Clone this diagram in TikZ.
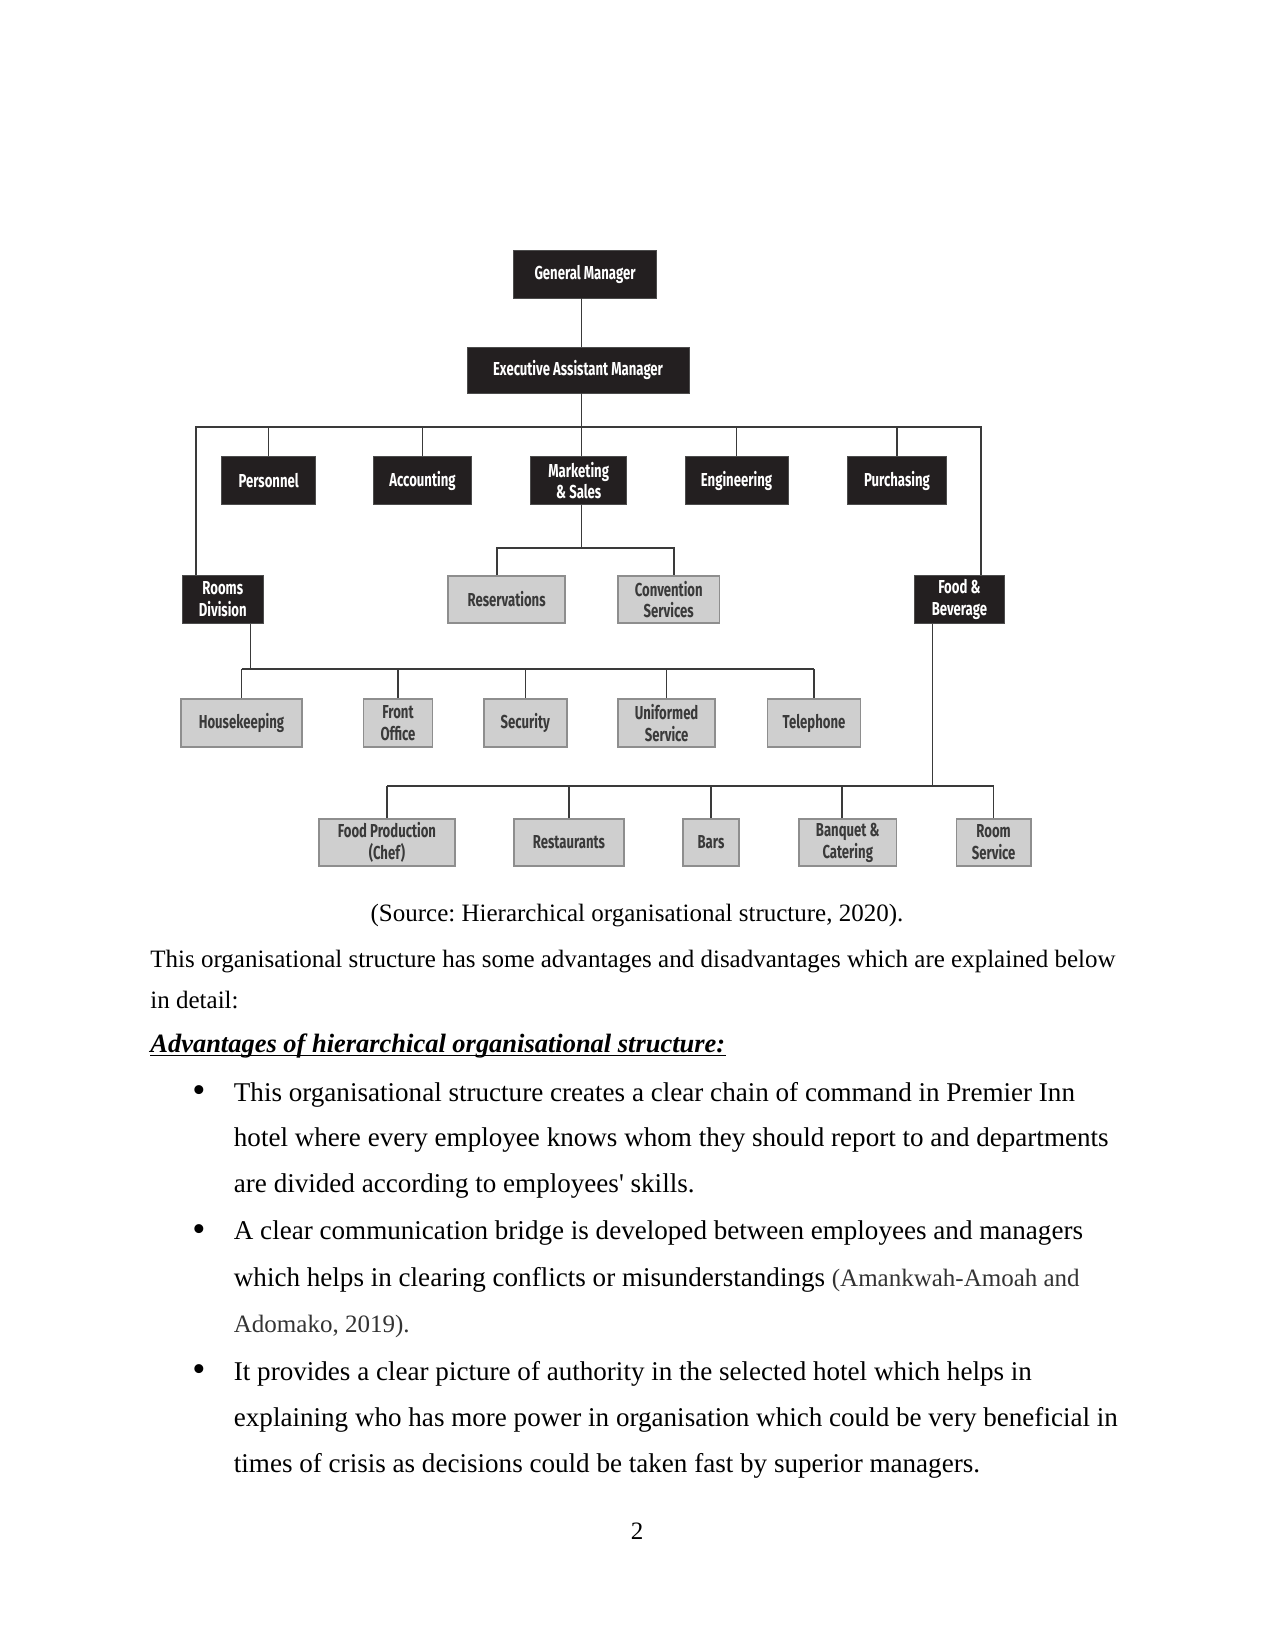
\documentclass[tikz,border=0pt]{standalone}
\usepackage{fontspec}
\setmainfont[Ligatures=TeXOff]{Liberation Serif}
\newfontfamily\orgfont[FakeStretch=0.70]{Fira Sans}
\frenchspacing
\newcommand\pxu{0.48pt}
\definecolor{blk}{HTML}{231F20}
\definecolor{gfill}{HTML}{CFCFCF}
\definecolor{gedge}{HTML}{8E8E8E}
\definecolor{gtext}{HTML}{3A3A3A}
\definecolor{lnc}{HTML}{3A3A3A}
\definecolor{cite}{HTML}{333333}
\tikzset{
  blkbox/.style={fill=blk, draw=gray!60!black, line width=0.4pt, text=white,
    font=\orgfont\bfseries\fontsize{9}{10.5}\selectfont, align=center, inner sep=0pt},
  grybox/.style={fill=gfill, draw=gedge, line width=0.9pt, text=gtext,
    font=\orgfont\bfseries\fontsize{9}{10.5}\selectfont, align=center, inner sep=0pt},
  conn/.style={draw=lnc, line width=0.7pt},
  tx/.style={anchor=base west, inner sep=0pt, font=\fontsize{13}{15}\selectfont},
  bul/.style={anchor=base, inner sep=0pt, font=\fontsize{18}{20}\selectfont},
}
\begin{document}
\begin{tikzpicture}[x=0.48pt,y=-0.48pt]
\useasboundingbox[fill=white] (0,0) rectangle (1275,1650);
% ---- top level
\node[blkbox, minimum width=143*\pxu, minimum height=48*\pxu] (gm) at (585,274) {General Manager};
\node[blkbox, minimum width=222*\pxu, minimum height=46*\pxu] (eam) at (578,370) {Executive Assistant Manager};
% ---- departments
\node[blkbox, minimum width=94*\pxu, minimum height=48*\pxu] (pers) at (268.7,480.5) {Personnel};
\node[blkbox, minimum width=98*\pxu, minimum height=48*\pxu] (acct) at (422.5,480.5) {Accounting};
\node[blkbox, minimum width=96*\pxu, minimum height=48*\pxu] (mkt) at (578.7,480.5) {Marketing\\\& Sales};
\node[blkbox, minimum width=103*\pxu, minimum height=48*\pxu] (eng) at (736.5,480.5) {Engineering};
\node[blkbox, minimum width=99*\pxu, minimum height=48*\pxu] (pur) at (897,480.5) {Purchasing};
\node[blkbox, minimum width=81.5*\pxu, minimum height=48*\pxu] (rooms) at (222.75,599.5) {Rooms\\Division};
\node[blkbox, minimum width=89*\pxu, minimum height=48*\pxu] (fb) at (959.4,599.5) {Food \&\\Beverage};
% ---- marketing children
\node[grybox, minimum width=116.6*\pxu, minimum height=47*\pxu] (res) at (506.6,599.5) {Reservations};
\node[grybox, minimum width=101.5*\pxu, minimum height=47*\pxu] (conv) at (668.75,599.5) {Convention\\Services};
% ---- rooms children
\node[grybox, minimum width=121*\pxu, minimum height=48*\pxu] (hk) at (241.5,723) {Housekeeping};
\node[grybox, minimum width=69*\pxu, minimum height=48*\pxu] (fo) at (398,723) {Front\\Office};
\node[grybox, minimum width=82.6*\pxu, minimum height=48*\pxu] (sec) at (525.3,723) {Security};
\node[grybox, minimum width=97*\pxu, minimum height=48*\pxu] (uni) at (666.6,723) {Uniformed\\Service};
\node[grybox, minimum width=93*\pxu, minimum height=48*\pxu] (tel) at (814,723) {Telephone};
% ---- F&B children
\node[grybox, minimum width=136*\pxu, minimum height=47*\pxu] (fp) at (387,842.5) {Food Production\\(Chef)};
\node[grybox, minimum width=109.5*\pxu, minimum height=47*\pxu] (rest) at (569,842.5) {Restaurants};
\node[grybox, minimum width=56.6*\pxu, minimum height=47*\pxu] (bars) at (711,842.5) {Bars};
\node[grybox, minimum width=97.5*\pxu, minimum height=47*\pxu] (banq) at (847.75,842.5) {Banquet \&\\Catering};
\node[grybox, minimum width=74.3*\pxu, minimum height=47*\pxu] (rs) at (993.6,842.5) {Room\\Service};
% ---- connector coordinates
\coordinate (trunk) at (581.4,427);
\coordinate (busL) at (196,427);
\coordinate (busR) at (981,427);
\coordinate (mbus) at (581.4,548);
\coordinate (resX) at (497,548);
\coordinate (convX) at (674,548);
\coordinate (rdrop) at (250.3,669);
\coordinate (rbL) at (241.5,669);
\coordinate (rbR) at (814,669);
\coordinate (fdrop) at (932.3,786);
\coordinate (fbL) at (387,786);
\coordinate (fbR) at (993.6,786);
\coordinate (banqX) at (842,786);
% ---- connectors
\draw[conn] (gm.south -| trunk) -- (eam.north -| trunk);
\draw[conn] (eam.south -| trunk) -- (mkt.north -| trunk);
\draw[conn] (rooms.north -| busL) -- (busL) -- (busR) -- (fb.north -| busR);
\foreach \n in {pers,acct,eng,pur} \draw[conn] (\n.north) -- (\n.north |- busL);
\draw[conn] (mkt.south -| trunk) -- (mbus);
\draw[conn] (res.north -| resX) -- (resX) -- (convX) -- (conv.north -| convX);
\draw[conn] (rooms.south -| rdrop) -- (rdrop);
\draw[conn] (rbL) -- (rbR);
\foreach \n in {hk,fo,sec,uni,tel} \draw[conn] (\n.north) -- (\n.north |- rbL);
\draw[conn] (fb.south -| fdrop) -- (fdrop);
\draw[conn] (fbL) -- (fbR);
\foreach \n in {fp,rest,bars,rs} \draw[conn] (\n.north) -- (\n.north |- fbL);
\draw[conn] (banq.north -| banqX) -- (banqX);
% ---- text
\node[anchor=base, inner sep=0pt, font=\fontsize{12}{14}\selectfont] (cap) at (637,921) {(Source: Hierarchical organisational structure, 2020).};
\node[tx, font=\fontsize{12}{14}\selectfont] (p1) at (150,967) {This organisational structure has some advantages and disadvantages which are explained below};
\node[tx, font=\fontsize{12}{14}\selectfont] (p2) at (150,1008) {in detail:};
\node[tx, font=\fontsize{12.7}{14}\selectfont\bfseries\itshape] (hd) at (150,1052) {Advantages of hierarchical organisational structure:};
\draw[line width=0.6pt] ([yshift=-1.6pt]hd.base west) -- ([yshift=-1.6pt]hd.base east);
\node[bul] (b1) at (199,1102.5) {•};
\node[tx] (l11) at (233.5,1101) {This organisational structure creates a clear chain of command in Premier Inn};
\node[tx] (l12) at (233.5,1146.5) {hotel where every employee knows whom they should report to and departments};
\node[tx] (l13) at (233.5,1192) {are divided according to employees' skills.};
\node[bul] (b2) at (199,1241) {•};
\node[tx] (l21) at (233.5,1239.5) {A clear communication bridge is developed between employees and managers};
\node[tx] (l22) at (233.5,1286) {which helps in clearing conflicts or misunderstandings {\color{cite}\fontsize{12}{14}\selectfont(Amankwah-Amoah and}};
\node[tx, text=cite, font=\fontsize{12}{14}\selectfont] (l23) at (233.5,1332.7) {Adomako, 2019).};
\node[bul] (b3) at (199,1381.5) {•};
\node[tx] (l31) at (233.5,1380) {It provides a clear picture of authority in the selected hotel which helps in};
\node[tx] (l32) at (233.5,1426) {explaining who has more power in organisation which could be very beneficial in};
\node[tx] (l33) at (233.5,1472.7) {times of crisis as decisions could be taken fast by superior managers.};
\node[anchor=base, inner sep=0pt, font=\fontsize{12}{14}\selectfont] (pg) at (637,1539.3) {2};
\end{tikzpicture}
\end{document}
